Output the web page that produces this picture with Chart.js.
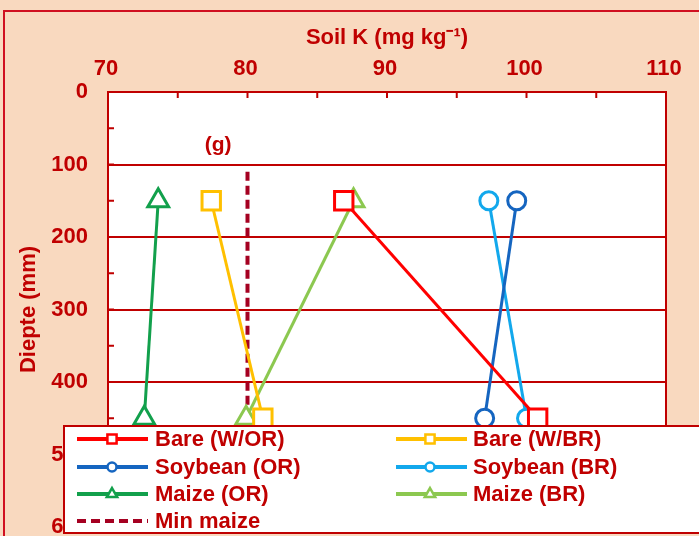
<!DOCTYPE html>
<html><head><meta charset="utf-8">
<script src="https://cdn.jsdelivr.net/npm/chart.js@4/dist/chart.umd.min.js"></script>
<style>html,body{margin:0;padding:0;background:#F9D9BF;overflow:hidden}#wrap{width:699px;height:536px}</style>
</head><body><div id="wrap"><canvas id="c" width="699" height="536"></canvas></div>
<script>
// ---- data ----
const depths = [150, 450];
const bareWOR = [86.9, 100.8];
const bareWBR = [77.4, 81.1];
const soyOR = [99.3, 97.0];
const soyBR = [97.3, 100.0];
const maizeOR = [73.6, 72.6];
const maizeBR = [87.6, 79.9];
const minMaizeK = [80, 80];
const minMaizeDepth = [110, 600];
const xTicks = [70, 80, 90, 100, 110];
const yTicks = [0, 100, 200, 300, 400, 500, 600];
const labels = ['Bare (W/OR)', 'Bare (W/BR)', 'Soybean (OR)', 'Soybean (BR)', 'Maize (OR)', 'Maize (BR)', 'Min maize'];

const DR = '#C00000';
const FONT = 'Liberation Sans, Arial, sans-serif';
const pts = (xs, ys) => xs.map((v, i) => ({x: v, y: ys[i]}));

function series(label, xs, color, style, r) {
  return {label, data: pts(xs, depths), showLine: true, borderColor: color, backgroundColor: '#FFFFFF',
    borderWidth: 3, pointStyle: style, pointRadius: r, pointBorderWidth: 3, pointBorderColor: color,
    pointBackgroundColor: '#FFFFFF', pointHoverRadius: r};
}

const datasets = [
  series(labels[0], bareWOR, '#FF0000', 'rect', 13),
  series(labels[1], bareWBR, '#FFC000', 'rect', 13),
  series(labels[2], soyOR, '#1565C0', 'circle', 9),
  series(labels[3], soyBR, '#12A8EC', 'circle', 9),
  series(labels[4], maizeOR, '#12A04C', 'triangle', 12),
  series(labels[5], maizeBR, '#8CC850', 'triangle', 12),
  {label: labels[6], data: pts(minMaizeK, minMaizeDepth), showLine: true, borderColor: '#A50021',
   borderWidth: 4, borderDash: [9, 5], pointRadius: 0, pointStyle: 'line'}
];

const framePlugin = {
  id: 'frame',
  beforeDraw(chart) {
    const {ctx, chartArea: a, width, height} = chart;
    ctx.save();
    ctx.fillStyle = '#F9D9BF';
    ctx.fillRect(0, 0, width, height);
    ctx.strokeStyle = '#D01020';
    ctx.lineWidth = 2;
    ctx.beginPath();
    ctx.moveTo(4, height); ctx.lineTo(4, 11); ctx.lineTo(width, 11);
    ctx.stroke();
    ctx.fillStyle = '#FFFFFF';
    ctx.fillRect(a.left, a.top, a.right - a.left, a.bottom - a.top);
    ctx.restore();
  },
  beforeDatasetsDraw(chart) {
    const {ctx, chartArea: a, scales} = chart;
    ctx.save();
    ctx.strokeStyle = DR;
    ctx.lineWidth = 2;
    ctx.beginPath();
    ctx.moveTo(a.right, a.top); ctx.lineTo(a.right, a.bottom);
    for (let v = 70; v <= 110; v += 5) {
      const px = scales.x.getPixelForValue(v);
      ctx.moveTo(px, a.top); ctx.lineTo(px, a.top + 6);
    }
    for (let d = 0; d <= 600; d += 50) {
      const py = scales.y.getPixelForValue(d);
      ctx.moveTo(a.left, py); ctx.lineTo(a.left + 6, py);
    }
    ctx.stroke();
    ctx.fillStyle = DR;
    ctx.font = 'bold 21px ' + FONT;
    ctx.textAlign = 'center';
    ctx.textBaseline = 'middle';
    ctx.fillText('(g)', scales.x.getPixelForValue(77.9), scales.y.getPixelForValue(73));
    ctx.restore();
  },
  afterDraw(chart) {
    const {ctx} = chart;
    ctx.save();
    ctx.fillStyle = '#FFFFFF';
    ctx.strokeStyle = DR;
    ctx.lineWidth = 2;
    ctx.fillRect(64, 426, 640, 107);
    ctx.strokeRect(64, 426, 640, 107);
    const rows = [439, 467, 494, 521];
    const cols = [{x0: 77, x1: 148, m: 112, t: 155}, {x0: 396, x1: 467, m: 430, t: 473}];
    chart.data.datasets.forEach((ds, i) => {
      const c = cols[i % 2], y = rows[Math.floor(i / 2)];
      ctx.save();
      ctx.strokeStyle = ds.borderColor;
      ctx.lineWidth = 4;
      if (ds.borderDash) ctx.setLineDash(ds.borderDash);
      ctx.beginPath(); ctx.moveTo(c.x0, y); ctx.lineTo(c.x1, y); ctx.stroke();
      ctx.restore();
      if (ds.pointRadius > 0) {
        ctx.save();
        ctx.strokeStyle = ds.borderColor; ctx.fillStyle = '#FFFFFF'; ctx.lineWidth = 2.5;
        const r = ds.pointStyle === 'rect' ? 6.5 : (ds.pointStyle === 'triangle' ? 6 : 4.5);
        Chart.helpers.drawPoint(ctx, {pointStyle: ds.pointStyle, radius: r, rotation: 0, borderWidth: 2.5}, c.m, y);
        ctx.restore();
      }
      ctx.fillStyle = DR;
      ctx.font = 'bold 22px ' + FONT;
      ctx.textAlign = 'left';
      ctx.textBaseline = 'middle';
      ctx.fillText(ds.label, c.t, y + 1);
    });
    ctx.restore();
  }
};

new Chart(document.getElementById('c'), {
  type: 'scatter',
  data: {datasets},
  plugins: [framePlugin],
  options: {
    responsive: false, animation: false, devicePixelRatio: 1,
    layout: {autoPadding: false, padding: {left: 12, top: 22, right: 33, bottom: 9}},
    plugins: {legend: {display: false}, tooltip: {enabled: false}},
    elements: {line: {tension: 0}},
    scales: {
      x: {
        type: 'linear', position: 'top', min: 70, max: 110,
        afterBuildTicks: s => { s.ticks = xTicks.map(v => ({value: v})); },
        afterFit: s => { s.height = 70; s.paddingLeft = 0; s.paddingRight = 0; },
        ticks: {color: DR, font: {family: FONT, size: 22, weight: 'bold'}, padding: 10, labelOffset: -2},
        grid: {display: false, drawTicks: false},
        border: {display: true, color: DR, width: 2},
        title: {display: true, text: 'Soil K (mg kg\u207B\u00B9)', color: DR,
                font: {family: FONT, size: 22, weight: 'bold'}, padding: {top: 3, bottom: 0}}
      },
      y: {
        type: 'linear', position: 'left', reverse: true, min: 0, max: 600,
        afterBuildTicks: s => { s.ticks = yTicks.map(v => ({value: v})); },
        afterFit: s => { s.width = 96; s.paddingTop = 0; s.paddingBottom = 0; },
        ticks: {color: DR, font: {family: FONT, size: 22, weight: 'bold'}, padding: 20},
        grid: {display: true, color: DR, lineWidth: 2, drawTicks: false},
        border: {display: true, color: DR, width: 2},
        title: {display: true, text: 'Diepte (mm)', color: DR,
                font: {family: FONT, size: 22, weight: 'bold'}, padding: {top: 4, bottom: 0}}
      }
    }
  }
});
</script></body></html>
